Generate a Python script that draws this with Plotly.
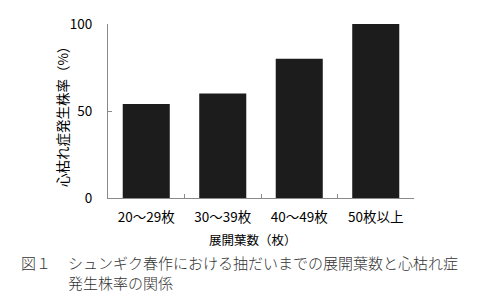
import plotly.graph_objects as go

categories = ["20～29枚", "30～39枚", "40～49枚", "50枚以上"]
values = [54, 60, 80, 100]
y_ticks = [0, 50, 100]

W, H = 478, 298
L, R, T, B = 108, 64, 24, 100
pw = W - L - R
ph = H - T - B

def px_x(px):
    return (px - L) / pw

def px_y(py):
    return (H - B - py) / ph

font = "Noto Sans CJK JP"

fig = go.Figure(go.Bar(
    x=categories, y=values,
    marker=dict(color="#1c1c1c", line=dict(width=0)),
    width=0.615,
))

tickfont = dict(size=13.5, family=font, color="#000")

fig.update_layout(
    width=W, height=H,
    margin=dict(l=L, r=R, t=T, b=B),
    paper_bgcolor="white", plot_bgcolor="white",
    showlegend=False,
    font=dict(family=font, color="#111", size=12),
    xaxis=dict(
        showline=True, linecolor="#8a8a8a", linewidth=1,
        ticks="inside", ticklen=4, tickcolor="#8a8a8a",
        tickson="boundaries", showgrid=False,
        tickfont=tickfont,
        ticklabelstandoff=7,
    ),
    yaxis=dict(
        range=[0, 100], tickvals=y_ticks,
        showline=True, linecolor="#8a8a8a", linewidth=1,
        ticks="inside", ticklen=4, tickcolor="#8a8a8a",
        showgrid=False, zeroline=False,
        tickfont=tickfont,
        ticklabelstandoff=12,
    ),
    annotations=[
        dict(text="心枯れ症発生株率（%）", textangle=-90,
             xref="paper", yref="paper", x=px_x(62), y=px_y(114),
             xanchor="center", yanchor="middle", showarrow=False,
             font=dict(size=13.5, family=font, color="#000")),
        dict(text="展開葉数（枚）",
             xref="paper", yref="paper", x=px_x(253), y=px_y(239),
             xanchor="center", yanchor="middle", showarrow=False,
             font=dict(size=12.5, family=font, color="#000")),
        dict(text="図１",
             xref="paper", yref="paper", x=px_x(19), y=px_y(262),
             xanchor="left", yanchor="middle", showarrow=False,
             font=dict(size=15, family=font, color="#333", weight=300)),
        dict(text="シュンギク春作における抽だいまでの展開葉数と心枯れ症<br>発生株率の関係",
             xref="paper", yref="paper", x=px_x(66), y=px_y(272),
             xanchor="left", yanchor="middle", align="left", showarrow=False,
             font=dict(size=15, family=font, color="#333", weight=300)),
    ],
)

fig.write_html("out.html")
